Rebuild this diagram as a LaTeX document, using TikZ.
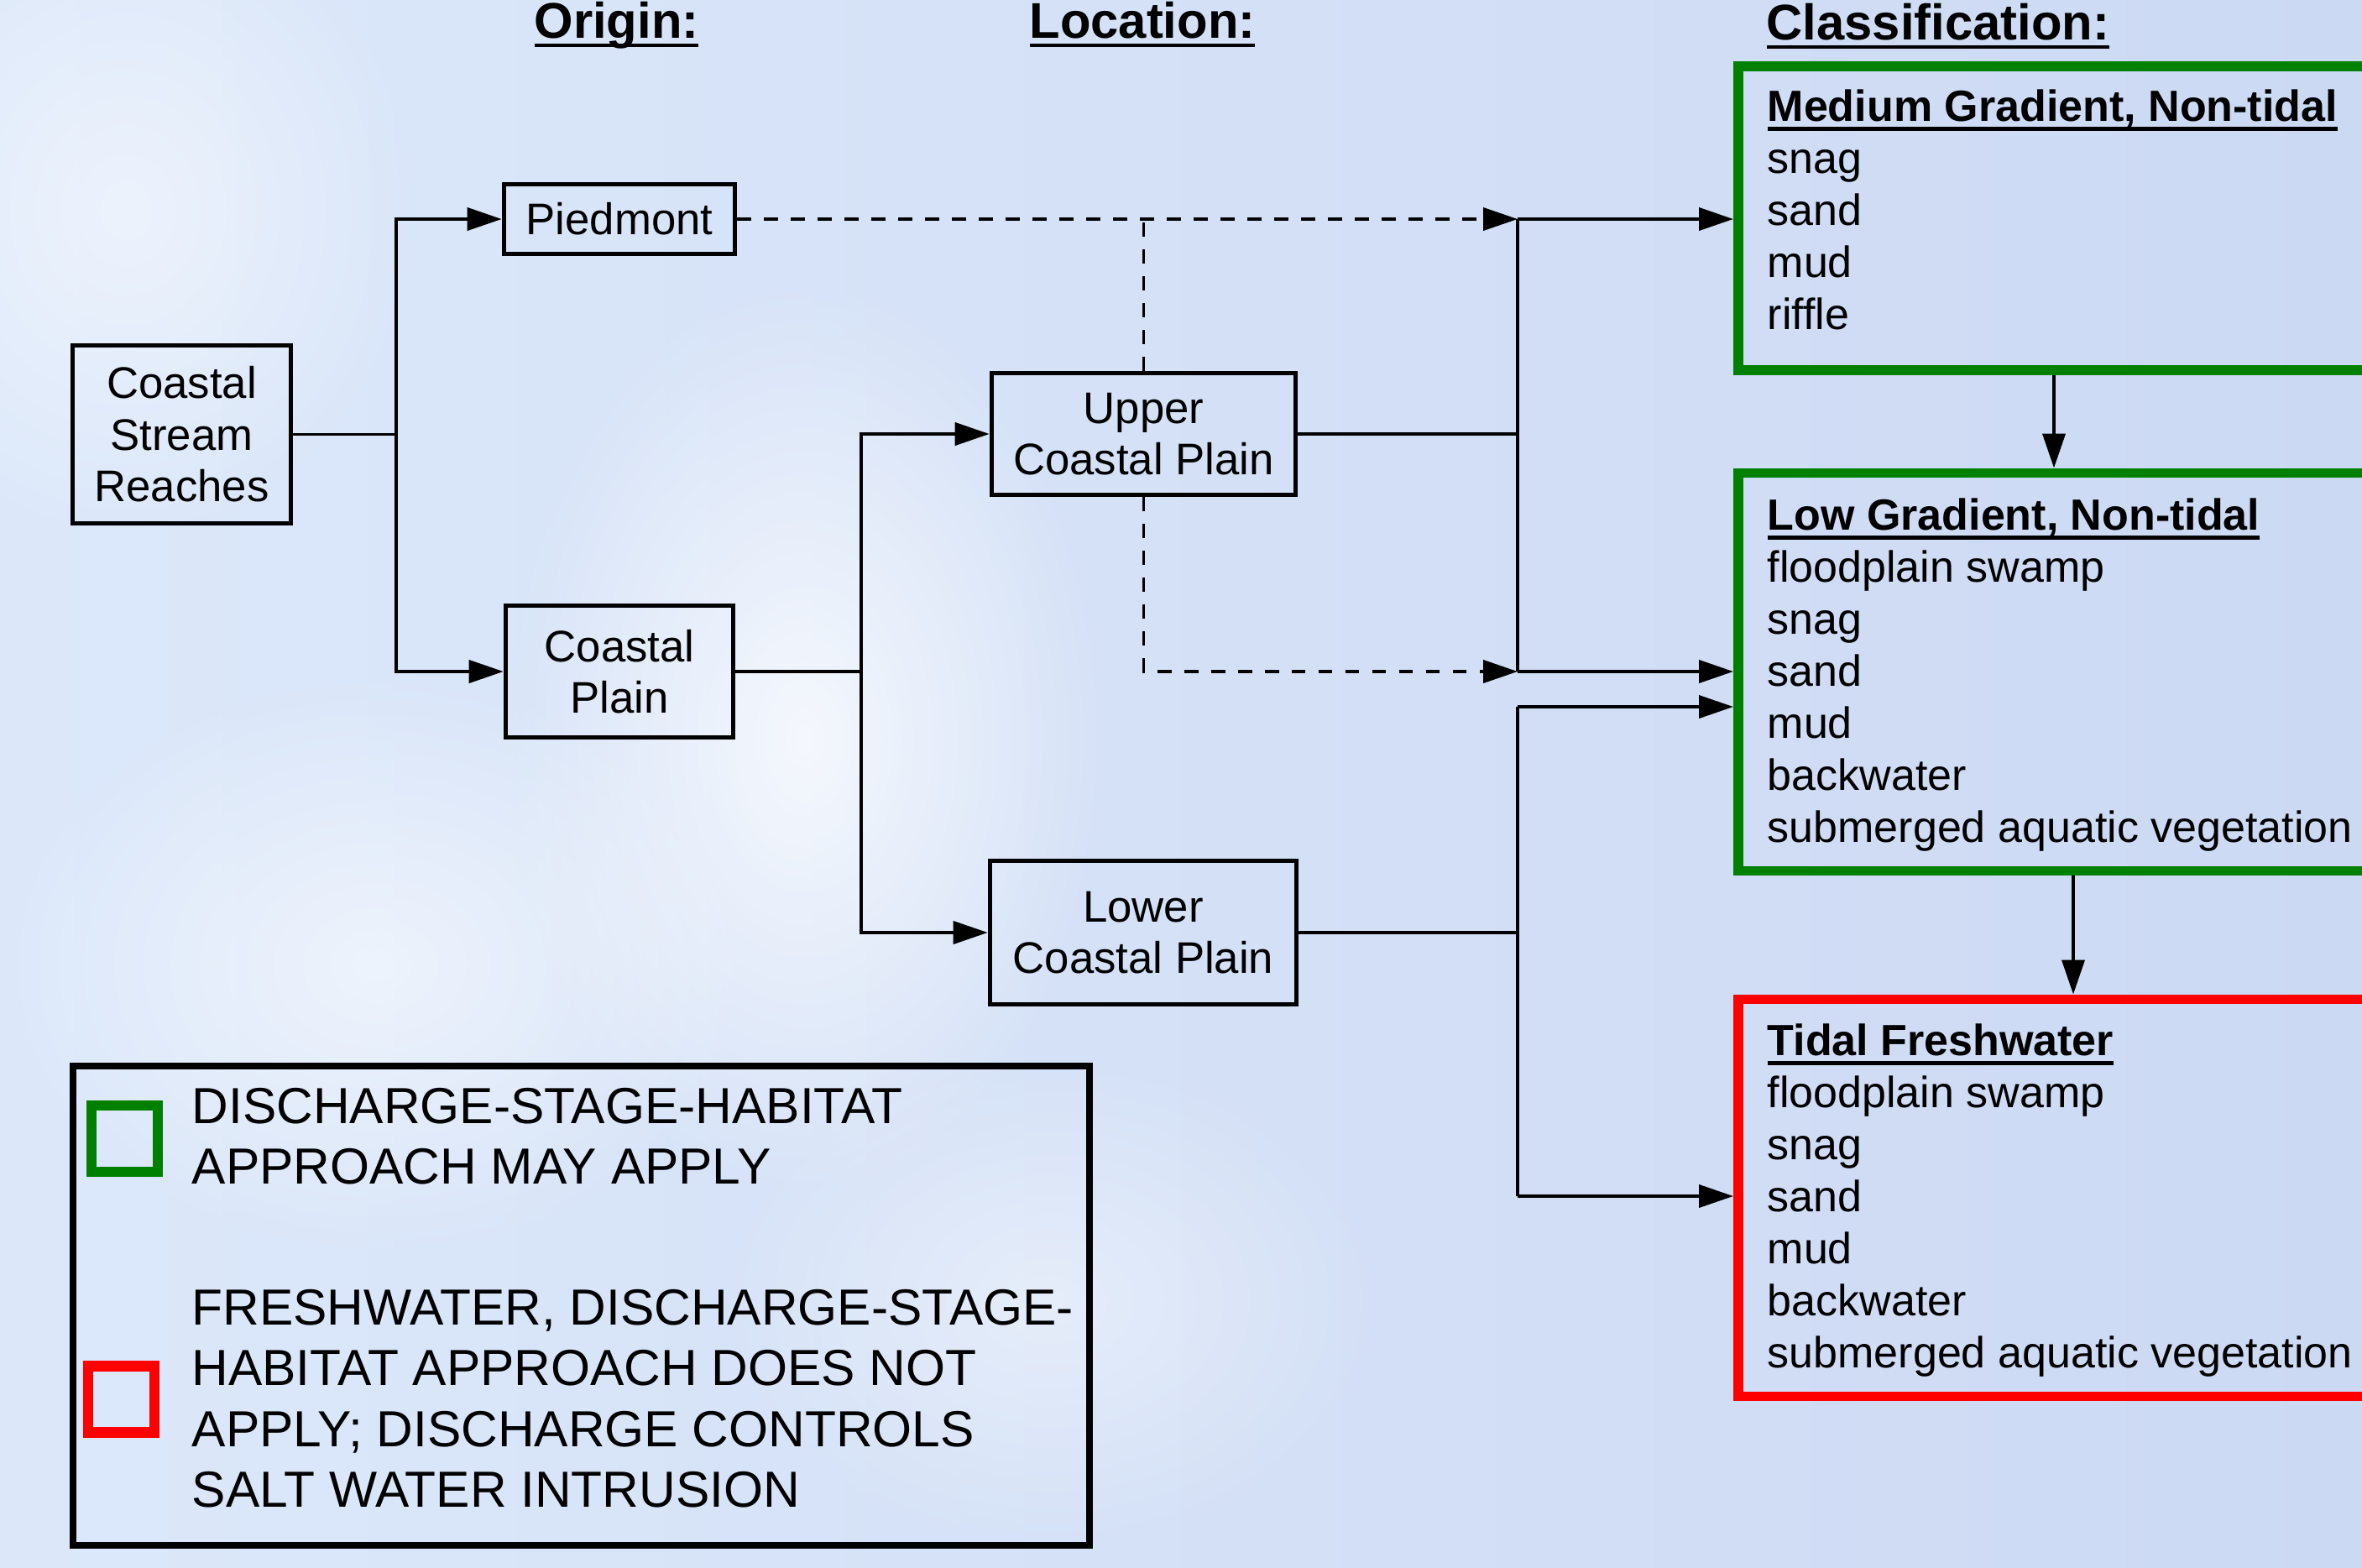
\documentclass[tikz,border=0pt]{standalone}
\usepackage{fontspec}
\setmainfont{Liberation Sans}
\usetikzlibrary{arrows.meta,fadings}

\definecolor{bgblue}{RGB}{204,217,243}
\definecolor{bgpale}{RGB}{220,232,250}
\definecolor{boxgreen}{RGB}{0,128,0}
\definecolor{boxred}{RGB}{255,0,0}

\tikzfading[name=softblob, inner color=transparent!0, outer color=transparent!100]

\newcommand{\hdul}[1]{\setbox0\hbox{#1}\rlap{\usebox0}\rule[-3.2pt]{\wd0}{1.3pt}}

\tikzset{
  loc/.style={draw, line width=1.6pt, align=center, inner sep=0pt,
    font=\fontsize{15}{17.5}\selectfont},
  classbox/.style={line width=3.3pt, anchor=north west, minimum width=9cm, inner sep=0pt},
  classtxt/.style={anchor=north west, align=left, inner sep=0pt,
    font=\fontsize{14.8}{17.64}\selectfont},
  hdr/.style={anchor=base, inner sep=0pt, font=\fontsize{17}{20}\selectfont\bfseries},
  plain/.style={line width=1.1pt},
  link/.style={plain, -{Triangle[length=4.1mm,width=2.7mm]}},
  dline/.style={plain, dash pattern=on 4.8pt off 4.3pt},
  dlink/.style={link, dash pattern=on 4.8pt off 4.3pt},
  legtxt/.style={anchor=north west, align=left, inner sep=0pt,
    font=\fontsize{17.2}{20.6}\selectfont},
  legsq/.style={line width=3.5pt, minimum size=0.79cm, inner sep=0pt},
}

\begin{document}
\begin{tikzpicture}
\useasboundingbox (0,0) rectangle (28.14,-18.67);
\shade[left color=bgpale, right color=bgblue] (0,0) rectangle (28.14,-18.67);
\fill[white, opacity=0.75, path fading=softblob] (9.6,-8.8) ellipse (3.6 and 5.5);
\fill[white, opacity=0.55, path fading=softblob] (4.5,-11.5) ellipse (4.5 and 3.5);
\fill[white, opacity=0.5, path fading=softblob] (1.5,-2.5) ellipse (3.5 and 4);
\fill[white, opacity=0.4, path fading=softblob] (12.5,-15.5) ellipse (4 and 3);

\node[hdr] (horigin) at (7.345,-0.45) {\hdul{Origin:}};
\node[hdr] (hlocation) at (13.61,-0.45) {\hdul{Location:}};
\node[hdr, anchor=base west] (hclass) at (21.04,-0.47) {\hdul{Classification:}};

\node[loc, minimum width=2.60cm, minimum height=2.12cm] (csr) at (2.165,-5.175) {Coastal\\Stream\\Reaches};
\node[loc, minimum width=2.75cm, minimum height=0.83cm] (pied) at (7.38,-2.61) {Piedmont};
\node[loc, minimum width=2.71cm, minimum height=1.57cm] (cp) at (7.38,-8.00) {Coastal\\Plain};
\node[loc, minimum width=3.62cm, minimum height=1.45cm] (ucp) at (13.625,-5.17) {Upper\\Coastal Plain};
\node[loc, minimum width=3.65cm, minimum height=1.71cm] (lcp) at (13.62,-11.11) {Lower\\Coastal Plain};

\node[classbox, draw=boxgreen, minimum height=3.62cm] (medbox) at (20.65,-0.73) {};
\node[classbox, draw=boxgreen, minimum height=4.74cm] (lowbox) at (20.65,-5.575) {};
\node[classbox, draw=boxred, minimum height=4.73cm] (tidbox) at (20.65,-11.845) {};

\node[classtxt] (medtxt) at (21.05,-1.06)
  {\hdul{\bfseries Medium Gradient, Non-tidal}\\snag\\sand\\mud\\riffle};
\node[classtxt] (lowtxt) at (21.05,-5.93)
  {\hdul{\bfseries Low Gradient, Non-tidal}\\floodplain swamp\\snag\\sand\\mud\\backwater\\submerged aquatic vegetation};
\node[classtxt] (tidtxt) at (21.05,-12.19)
  {\hdul{\bfseries Tidal Freshwater}\\floodplain swamp\\snag\\sand\\mud\\backwater\\submerged aquatic vegetation};

\coordinate (j1) at (4.72,-5.175);
\coordinate (j2) at (10.26,-8.0);
\coordinate (jtop) at (18.08,-2.61);
\coordinate (jmid) at (18.08,-8.0);
\coordinate (jlow) at (18.08,-8.42);
\coordinate (jbot) at (18.08,-14.25);
\coordinate (dn1) at (24.47,0);
\coordinate (dn2) at (24.70,0);

\draw[plain] (csr.east) -- (j1);
\draw[link] (j1) |- (pied.west);
\draw[link] (j1) |- (cp.west);
\draw[plain] (cp.east) -- (j2);
\draw[link] (j2) |- (ucp.west);
\draw[link] (j2) |- (lcp.west);

\draw[dlink] (pied.east) -- (jtop);
\draw[dline] (ucp.north) -- (ucp.north |- jtop);
\draw[dlink] (ucp.south) |- (jmid);

\draw[plain] (ucp.east) -- (ucp.east -| jtop);
\draw[plain] (jtop) -- (jmid);
\draw[link] (jtop) -- (jtop -| medbox.west);
\draw[link] (jmid) -- (jmid -| lowbox.west);
\draw[plain] (lcp.east) -- (lcp.east -| jlow);
\draw[plain] (jlow) -- (jbot);
\draw[link] (jlow) -- (jlow -| lowbox.west);
\draw[link] (jbot) -- (jbot -| tidbox.west);

\draw[link] (dn1 |- medbox.south) -- (dn1 |- lowbox.north);
\draw[link] (dn2 |- lowbox.south) -- (dn2 |- tidbox.north);

\node[draw, line width=2.3pt, anchor=north west, minimum width=12.11cm, minimum height=5.71cm, inner sep=0pt] (legbox) at (0.83,-12.66) {};
\node[legsq, draw=boxgreen] (greensq) at (1.485,-13.565) {};
\node[legsq, draw=boxred] (redsq) at (1.445,-16.67) {};
\node[legtxt] (greentxt) at (2.28,-12.955) {DISCHARGE-STAGE-HABITAT\\APPROACH MAY APPLY};
\node[legtxt] (redtxt) at (2.28,-15.355) {FRESHWATER, DISCHARGE-STAGE-\\HABITAT APPROACH DOES NOT\\APPLY; DISCHARGE CONTROLS\\SALT WATER INTRUSION};
\end{tikzpicture}
\end{document}
